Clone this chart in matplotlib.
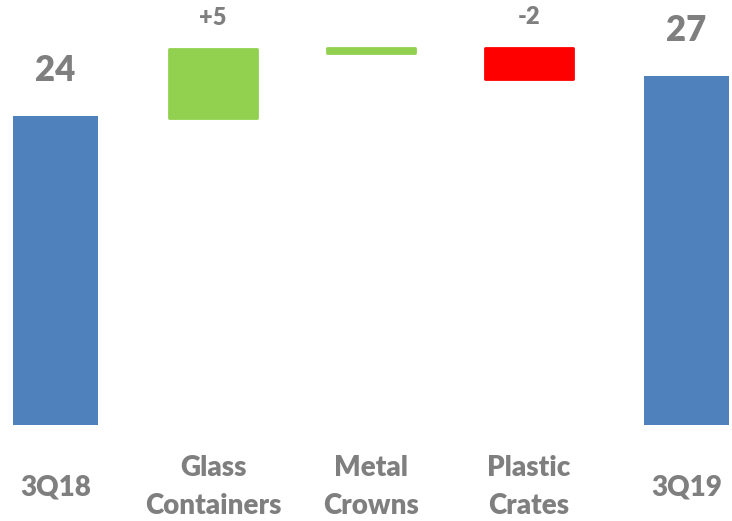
import matplotlib.pyplot as plt

# waterfall: 3Q18 -> 3Q19
categories = ['3Q18', 'Glass\nContainers', 'Metal\nCrowns', 'Plastic\nCrates', '3Q19']
bar_bottoms = [0.0, 23.8, 28.9, 26.9, 0.0]
bar_tops = [24.0, 29.2, 29.3, 29.3, 27.1]
value_labels = ['24', '+5', '', '-2', '27']
bar_kinds = ['total', 'up', 'up', 'down', 'total']

colors = {'total': '#4F81BD', 'up': '#92D050', 'down': '#FF0000'}
text_gray = '#7F7F7F'

plt.rcParams['font.family'] = ['Lato', 'DejaVu Sans']

fig = plt.figure(figsize=(7.32, 5.21), dpi=100)
ax = fig.add_axes([0, 0, 1, 1])

x = list(range(len(categories)))
for i, kind in enumerate(bar_kinds):
    h = bar_tops[i] - bar_bottoms[i]
    if kind == 'total':
        ax.bar(x[i], h, bottom=bar_bottoms[i], width=0.54, color=colors[kind], linewidth=0)
    else:
        ax.bar(x[i], h, bottom=bar_bottoms[i], width=0.56, color=colors[kind],
               edgecolor=colors[kind], linewidth=2, joinstyle='round')

    if value_labels[i]:
        big = kind == 'total'
        ax.annotate(value_labels[i], (x[i], bar_tops[i]),
                    xytext=(0, 33 if big else 22), textcoords='offset points',
                    ha='center', va='center', color=text_gray,
                    fontsize=25 if big else 17, fontweight='heavy')

    ax.text(x[i], -4.82, categories[i], ha='center', va='center',
            color=text_gray, fontsize=20, fontweight='heavy', linespacing=1.6)

ax.set_xlim(-0.352, 4.289)
ax.set_ylim(-7.46, 33.0)
ax.axis('off')

fig.savefig('out.png', dpi=100)
